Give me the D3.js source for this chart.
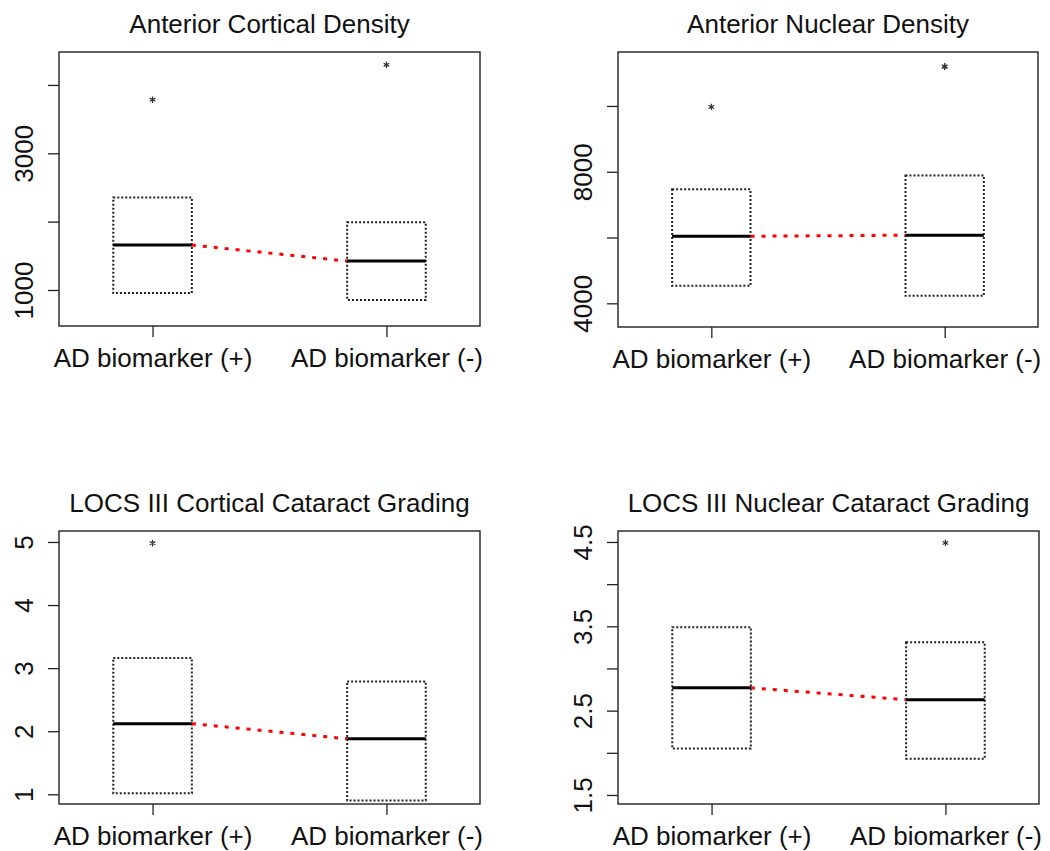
<!DOCTYPE html>
<html>
<head>
<meta charset="utf-8">
<script src="https://cdn.jsdelivr.net/npm/d3@7"></script>
<style>
  body { margin: 0; background: #fff; }
  text { font-family: "Liberation Sans", Arial, sans-serif; fill: #111; }
</style>
</head>
<body>
<div id="chart"></div>
<script>
// groups on the x axis
var groups = ["AD biomarker (+)", "AD biomarker (-)"];
var titles = ["Anterior Cortical Density", "Anterior Nuclear Density",
              "LOCS III Cortical Cataract Grading", "LOCS III Nuclear Cataract Grading"];

// box values, one pair per panel: [biomarker +, biomarker -]
var boxLow    = [[956, 854],   [4533, 4230], [1.015, 0.9], [2.05, 1.93]];
var boxHigh   = [[2353, 1990], [7464, 7888], [3.16, 2.79], [3.49, 3.31]];
var medians   = [[1657, 1423], [6039, 6070], [2.12, 1.88], [2.77, 2.63]];
var outliers  = [[[3784], [4295]], [[9970], [11190, 11205]], [[4.98], []], [[], [4.49]]];

// axis settings
var yDomains    = [[473, 4482], [3280, 11640], [0.846, 5.174], [1.393, 4.63]];
var yTicks      = [[1000, 2000, 3000, 4000], [4000, 6000, 8000, 10000], [1, 2, 3, 4, 5], [1.5, 2, 2.5, 3, 3.5, 4, 4.5]];
var yTickLabels = [[1000, 3000], [4000, 8000], [1, 2, 3, 4, 5], [1.5, 2.5, 3.5, 4.5]];

var w = 1050, h = 851;
// plot rectangles of the four panels
var frames = [
  {x0: 59,  x1: 480,  y0: 52,  y1: 326},
  {x0: 618, x1: 1038, y0: 52,  y1: 327},
  {x0: 59,  x1: 480,  y0: 531, y1: 804},
  {x0: 618, x1: 1039, y0: 531, y1: 804}
];

var svg = d3.select("#chart").append("svg")
  .attr("width", w)
  .attr("height", h);

var halfW = 0.168;

frames.forEach(function(f, p) {
  var g = svg.append("g");

  var x = d3.scaleLinear().domain([0.6, 2.4]).range([f.x0, f.x1]);
  var y = d3.scaleLinear().domain(yDomains[p]).range([f.y1, f.y0]);

  // title
  g.append("text")
    .attr("x", (f.x0 + f.x1) / 2)
    .attr("y", f.y0 - 19)
    .attr("text-anchor", "middle")
    .style("font-size", "26px")
    .text(titles[p]);

  // y axis (R drops labels that would overlap)
  var yAxis = d3.axisLeft(y)
    .tickValues(yTicks[p])
    .tickSize(11)
    .tickFormat(function(d) { return yTickLabels[p].indexOf(d) >= 0 ? d : ""; });
  var ya = g.append("g")
    .attr("transform", "translate(" + f.x0 + ",0)")
    .call(yAxis);
  ya.select(".domain").remove();
  ya.selectAll("line").attr("stroke", "#222").attr("stroke-width", 1.3);
  ya.selectAll("text")
    .attr("x", 0).attr("y", 0).attr("dy", null)
    .attr("text-anchor", "middle")
    .attr("transform", "translate(-26,0) rotate(-90)")
    .style("font-size", "26px")
    .style("font-family", "Liberation Sans, Arial, sans-serif")
    .attr("fill", "#111");

  // x axis
  var xAxis = d3.axisBottom(x)
    .tickValues([1, 2])
    .tickSize(11)
    .tickFormat(function(d) { return groups[d - 1]; });
  var xa = g.append("g")
    .attr("transform", "translate(0," + f.y1 + ")")
    .call(xAxis);
  xa.select(".domain").remove();
  xa.selectAll("line").attr("stroke", "#222").attr("stroke-width", 1.3);
  xa.selectAll("text")
    .attr("dy", null)
    .attr("y", 41)
    .style("font-size", "26px")
    .style("font-family", "Liberation Sans, Arial, sans-serif")
    .attr("fill", "#111");

  // frame
  g.append("rect")
    .attr("x", f.x0).attr("y", f.y0)
    .attr("width", f.x1 - f.x0).attr("height", f.y1 - f.y0)
    .attr("fill", "none")
    .attr("stroke", "#222")
    .attr("stroke-width", 1.4);

  // dotted boxes
  g.selectAll(".box")
    .data([0, 1])
    .enter()
    .append("rect")
    .attr("class", "box")
    .attr("x", function(i) { return x(i + 1 - halfW); })
    .attr("width", function(i) { return x(i + 1 + halfW) - x(i + 1 - halfW); })
    .attr("y", function(i) { return y(boxHigh[p][i]); })
    .attr("height", function(i) { return y(boxLow[p][i]) - y(boxHigh[p][i]); })
    .attr("fill", "none")
    .attr("stroke", "#222")
    .attr("stroke-width", 2)
    .attr("stroke-dasharray", "2,2");

  // red dotted line joining medians
  g.append("line")
    .attr("x1", x(1 + halfW)).attr("y1", y(medians[p][0]))
    .attr("x2", x(2 - halfW)).attr("y2", y(medians[p][1]))
    .attr("stroke", "#ff0000")
    .attr("stroke-width", 3)
    .attr("stroke-dasharray", "4,7");

  // medians
  g.selectAll(".med")
    .data([0, 1])
    .enter()
    .append("line")
    .attr("class", "med")
    .attr("x1", function(i) { return x(i + 1 - halfW); })
    .attr("x2", function(i) { return x(i + 1 + halfW); })
    .attr("y1", function(i) { return y(medians[p][i]); })
    .attr("y2", function(i) { return y(medians[p][i]); })
    .attr("stroke", "#000")
    .attr("stroke-width", 3);

  // outliers
  var pts = [];
  outliers[p].forEach(function(arr, i) {
    arr.forEach(function(v) { pts.push({g: i + 1, v: v}); });
  });
  g.selectAll(".out")
    .data(pts)
    .enter()
    .append("path")
    .attr("class", "out")
    .attr("transform", function(d) { return "translate(" + x(d.g) + "," + y(d.v) + ")"; })
    .attr("d", d3.symbol(d3.symbolAsterisk, 28))
    .attr("fill", "none")
    .attr("stroke", "#333")
    .attr("stroke-width", 1.2);
});
</script>
</body>
</html>
